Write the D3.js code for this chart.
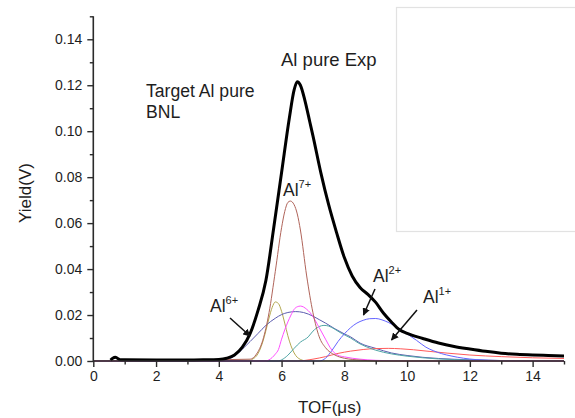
<!DOCTYPE html>
<html>
<head>
<meta charset="utf-8">
<script src="https://cdn.jsdelivr.net/npm/d3@7"></script>
<style>
  html, body { margin: 0; padding: 0; background: #fff; }
  svg { display: block; font-family: "Liberation Sans", Arial, sans-serif; }
</style>
</head>
<body>
<svg id="chart" width="575" height="418"></svg>
<script>
// ---------- data ----------
const xTickValues = [0, 2, 4, 6, 8, 10, 12, 14];
const xMinorTicks = [1, 3, 5, 7, 9, 11, 13, 15];
const yTickValues = [0, 0.02, 0.04, 0.06, 0.08, 0.10, 0.12, 0.14];
const yMinorTicks = [0.01, 0.03, 0.05, 0.07, 0.09, 0.11, 0.13, 0.15];

// experimental TOF spectrum (x: TOF µs, y: yield V)
const expX = [0.55, 0.62, 0.7, 0.78, 0.85, 1.0, 2.0, 3.0, 3.5, 4.0, 4.25, 4.5, 4.75, 5.0, 5.25, 5.5, 5.75, 6.0, 6.25, 6.4, 6.5, 6.6, 6.75, 6.9, 7.0, 7.25, 7.5, 7.75, 8.0, 8.25, 8.5, 8.75, 9.0, 9.25, 9.5, 9.75, 10.0, 10.5, 11.0, 11.5, 12.0, 12.5, 13.0, 13.5, 14.0, 14.5, 15.0];
const expY = [0.0004, 0.0012, 0.0016, 0.0011, 0.0006, 0.0005, 0.0004, 0.0004, 0.0005, 0.0007, 0.0012, 0.0026, 0.0060, 0.0120, 0.0220, 0.0350, 0.0580, 0.0820, 0.1060, 0.1180, 0.1215, 0.1200, 0.1130, 0.1040, 0.0980, 0.0820, 0.0680, 0.0560, 0.0450, 0.0370, 0.0320, 0.0290, 0.0255, 0.0208, 0.0170, 0.0137, 0.0120, 0.0098, 0.0078, 0.0063, 0.0052, 0.0042, 0.0034, 0.0029, 0.0026, 0.0024, 0.0022];

// fitted components
const al7X = [0, 5.0, 5.2, 5.4, 5.6, 5.8, 6.0, 6.1, 6.2, 6.28, 6.4, 6.5, 6.6, 6.8, 7.0, 7.2, 7.4, 7.7, 8.0, 8.5, 9.0, 15];
const al7Y = [0, 0.0008, 0.003, 0.009, 0.021, 0.039, 0.058, 0.065, 0.069, 0.0696, 0.068, 0.064, 0.057, 0.037, 0.021, 0.0105, 0.0058, 0.0026, 0.0012, 0.0004, 0, 0];

const al6X = [0, 5.0, 5.1, 5.2, 5.3, 5.4, 5.5, 5.6, 5.7, 5.8, 5.9, 6.0, 6.1, 6.2, 6.3, 6.4, 6.5, 6.6, 6.7, 6.9, 15];
const al6Y = [0, 0.0003, 0.001, 0.0022, 0.0046, 0.0083, 0.0132, 0.0187, 0.0233, 0.0257, 0.025, 0.0216, 0.0165, 0.011, 0.0066, 0.0035, 0.0016, 0.0007, 0.0002, 0, 0];

const broadX = [0, 4.0, 4.2, 4.5, 4.83, 5.0, 5.25, 5.5, 5.8, 6.0, 6.2, 6.45, 6.7, 7.0, 7.2, 7.4, 7.7, 8.0, 8.2, 8.5, 9.0, 9.5, 10.0, 10.5, 11.0, 12.0, 13.0, 14.0, 15];
const broadY = [0, 0, 0.0003, 0.0022, 0.0062, 0.0085, 0.012, 0.0155, 0.0186, 0.0202, 0.0211, 0.0215, 0.0211, 0.0195, 0.018, 0.0165, 0.014, 0.0118, 0.0105, 0.0078, 0.0055, 0.0035, 0.0024, 0.0016, 0.0011, 0.0005, 0.0002, 0.0001, 0];

const magX = [0, 5.5, 5.6, 5.8, 5.9, 6.0, 6.1, 6.2, 6.3, 6.4, 6.5, 6.6, 6.7, 6.8, 6.9, 7.0, 7.2, 7.4, 7.6, 7.8, 8.0, 8.5, 9.0, 10.0, 15];
const magY = [0, 0, 0.0005, 0.003, 0.005, 0.0095, 0.0135, 0.017, 0.020, 0.0225, 0.0236, 0.0239, 0.0235, 0.0225, 0.0212, 0.0193, 0.0145, 0.0095, 0.0048, 0.0025, 0.0018, 0.0008, 0.0003, 0, 0];

const tealX = [0, 5.9, 6.0, 6.2, 6.4, 6.6, 6.85, 7.0, 7.2, 7.35, 7.5, 7.7, 7.9, 8.2, 8.45, 8.7, 9.0, 9.5, 10.0, 10.5, 11.0, 12.0, 13.0, 15];
const tealY = [0, 0, 0.0005, 0.0025, 0.0055, 0.0082, 0.0105, 0.013, 0.015, 0.0155, 0.0152, 0.0138, 0.0121, 0.0100, 0.0078, 0.0062, 0.0047, 0.0031, 0.0021, 0.0014, 0.0009, 0.0004, 0.0001, 0];

const al2X = [0, 7.2, 7.4, 7.6, 7.8, 8.0, 8.2, 8.4, 8.6, 8.8, 9.0, 9.2, 9.4, 9.6, 9.8, 10.0, 10.3, 10.6, 10.85, 11.1, 11.4, 11.8, 12.2, 13.0, 14.0, 15];
const al2Y = [0, 0, 0.0012, 0.0045, 0.0085, 0.0118, 0.0145, 0.0165, 0.0177, 0.0184, 0.0185, 0.0179, 0.0168, 0.0153, 0.0137, 0.0118, 0.0090, 0.0060, 0.0044, 0.0032, 0.0022, 0.0012, 0.0006, 0.0002, 0, 0];

const al1X = [0, 6.5, 7.0, 7.4, 7.8, 8.2, 8.6, 9.0, 9.4, 9.8, 10.2, 10.7, 11.3, 12.0, 13.0, 14.0, 15.0];
const al1Y = [0, 0, 0.0008, 0.0019, 0.0033, 0.0043, 0.0050, 0.0054, 0.0055, 0.0053, 0.0049, 0.0042, 0.0034, 0.0026, 0.0019, 0.0014, 0.0011];

const componentSeries = [
  { name: "Al6+", xs: al6X, ys: al6Y, color: "#b3a850" },
  { name: "broad", xs: broadX, ys: broadY, color: "#5c5cb0" },
  { name: "Al1+", xs: al1X, ys: al1Y, color: "#ff5a5a" },
  { name: "teal", xs: tealX, ys: tealY, color: "#4fa5a5" },
  { name: "Al2+", xs: al2X, ys: al2Y, color: "#6464ff" },
  { name: "mag", xs: magX, ys: magY, color: "#ff50ff" },
  { name: "Al7+", xs: al7X, ys: al7Y, color: "#b0645a" }
];

// ---------- layout ----------
const svg = d3.select("#chart");
const x = d3.scaleLinear().domain([0, 15]).range([93.3, 564]);
const y = d3.scaleLinear().domain([0, 0.15]).range([361, 16.3]);
const axisColor = "#2b2b2b";
const textColor = "#1e1e1e";

// legend/inset frame (empty box top right)
svg.append("rect")
  .attr("x", 396.5).attr("y", 7.5)
  .attr("width", 190).attr("height", 224)
  .attr("fill", "#fff")
  .attr("stroke", "#e2e2e2").attr("stroke-width", 1.2);

const line = d3.line()
  .x(d => x(d[0])).y(d => y(d[1]))
  .curve(d3.curveMonotoneX);

const zip = (xs, ys) => xs.map((v, i) => [v, ys[i]]);

// components
svg.append("g").selectAll("path")
  .data(componentSeries)
  .join("path")
  .attr("d", s => line(zip(s.xs, s.ys)))
  .attr("fill", "none")
  .attr("stroke", s => s.color)
  .attr("stroke-width", 1);

// experimental
svg.append("path")
  .attr("d", line(zip(expX, expY)))
  .attr("fill", "none")
  .attr("stroke", "#000")
  .attr("stroke-width", 3)
  .attr("stroke-linejoin", "round");

// ---------- axes ----------
const xAxis = d3.axisBottom(x).tickValues(xTickValues).tickSize(6).tickPadding(4).tickFormat(d3.format("d"));
const gx = svg.append("g").attr("transform", `translate(0,${y(0)})`).call(xAxis);
gx.select(".domain").attr("d", `M${x(0)},0H${x(15)}`);
const gxm = svg.append("g").attr("transform", `translate(0,${y(0)})`)
  .call(d3.axisBottom(x).tickValues(xMinorTicks).tickSize(3.5).tickFormat(""));
gxm.select(".domain").remove();

const yAxis = d3.axisLeft(y).tickValues(yTickValues).tickSize(6).tickPadding(5).tickFormat(d3.format(".2f"));
const gy = svg.append("g").attr("transform", `translate(${x(0)},0)`).call(yAxis);
gy.select(".domain").attr("d", `M0,${y(0.15)}V${y(0)}`);
const gym = svg.append("g").attr("transform", `translate(${x(0)},0)`)
  .call(d3.axisLeft(y).tickValues(yMinorTicks).tickSize(3.5).tickFormat(""));
gym.select(".domain").remove();

[gx, gxm, gy, gym].forEach(g => {
  g.selectAll(".domain").attr("stroke", axisColor).attr("stroke-width", 1.6);
  g.selectAll(".tick line").attr("stroke", axisColor).attr("stroke-width", 1.4);
  g.selectAll(".tick text").attr("fill", textColor).attr("font-size", 14)
    .attr("font-family", "'Liberation Sans', Arial, sans-serif");
});

// axis titles
svg.append("text")
  .attr("x", 298).attr("y", 413)
  .attr("font-size", 17).attr("fill", textColor)
  .text("TOF(")
  .append("tspan").text("μ")
  .clone(true).text("s)");

svg.append("text")
  .attr("transform", `translate(31,193) rotate(-90)`)
  .attr("text-anchor", "middle")
  .attr("font-size", 17).attr("fill", textColor)
  .text("Yield(V)");

// annotations
svg.append("text").attr("x", 146).attr("y", 97).attr("font-size", 17.6).attr("fill", textColor).text("Target Al pure");
svg.append("text").attr("x", 146).attr("y", 118).attr("font-size", 17.6).attr("fill", textColor).text("BNL");
svg.append("text").attr("x", 281).attr("y", 66).attr("font-size", 18.5).attr("fill", textColor).text("Al pure Exp");

function ionLabel(px, py, charge) {
  const t = svg.append("text").attr("x", px).attr("y", py).attr("fill", textColor).attr("font-size", 17.5);
  t.append("tspan").text("Al");
  t.append("tspan").attr("dy", -8).attr("font-size", 11).text(charge);
}
ionLabel(283, 196, "7+");
ionLabel(210, 312, "6+");
ionLabel(373, 282, "2+");
ionLabel(423, 303, "1+");

// arrows
const defs = svg.append("defs");
defs.append("marker")
  .attr("id", "ah").attr("viewBox", "0 0 10 10")
  .attr("refX", 9).attr("refY", 5)
  .attr("markerWidth", 5).attr("markerHeight", 5)
  .attr("orient", "auto")
  .append("path").attr("d", "M0,0L10,5L0,10z").attr("fill", "#111");

const arrows = [
  [230, 318, 250, 336],
  [375, 289, 363.5, 315],
  [417, 310, 391.5, 340]
];
svg.append("g").selectAll("line").data(arrows).join("line")
  .attr("x1", d => d[0]).attr("y1", d => d[1])
  .attr("x2", d => d[2]).attr("y2", d => d[3])
  .attr("stroke", "#111").attr("stroke-width", 1.5)
  .attr("marker-end", "url(#ah)");
</script>
</body>
</html>
